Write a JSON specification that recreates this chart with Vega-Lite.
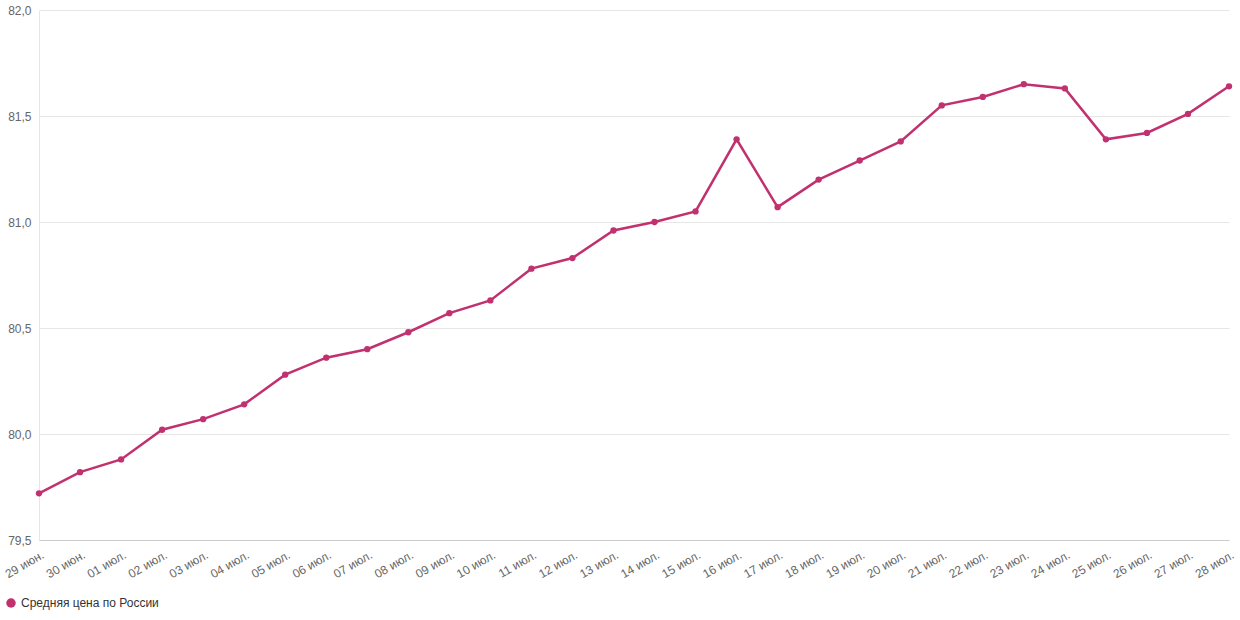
{
  "$schema": "https://vega.github.io/schema/vega-lite/v6.json",
  "autosize": "none",
  "width": 1190,
  "height": 530,
  "padding": {"left": 39, "top": 10, "right": 11, "bottom": 80},
  "background": "white",
  "config": {
    "view": {"stroke": null},
    "font": "Liberation Sans"
  },
  "data": {
    "values": [
      {"date": "29 июн.", "price": 79.72, "series": "Средняя цена по России"},
      {"date": "30 июн.", "price": 79.82, "series": "Средняя цена по России"},
      {"date": "01 июл.", "price": 79.88, "series": "Средняя цена по России"},
      {"date": "02 июл.", "price": 80.02, "series": "Средняя цена по России"},
      {"date": "03 июл.", "price": 80.07, "series": "Средняя цена по России"},
      {"date": "04 июл.", "price": 80.14, "series": "Средняя цена по России"},
      {"date": "05 июл.", "price": 80.28, "series": "Средняя цена по России"},
      {"date": "06 июл.", "price": 80.36, "series": "Средняя цена по России"},
      {"date": "07 июл.", "price": 80.40, "series": "Средняя цена по России"},
      {"date": "08 июл.", "price": 80.48, "series": "Средняя цена по России"},
      {"date": "09 июл.", "price": 80.57, "series": "Средняя цена по России"},
      {"date": "10 июл.", "price": 80.63, "series": "Средняя цена по России"},
      {"date": "11 июл.", "price": 80.78, "series": "Средняя цена по России"},
      {"date": "12 июл.", "price": 80.83, "series": "Средняя цена по России"},
      {"date": "13 июл.", "price": 80.96, "series": "Средняя цена по России"},
      {"date": "14 июл.", "price": 81.00, "series": "Средняя цена по России"},
      {"date": "15 июл.", "price": 81.05, "series": "Средняя цена по России"},
      {"date": "16 июл.", "price": 81.39, "series": "Средняя цена по России"},
      {"date": "17 июл.", "price": 81.07, "series": "Средняя цена по России"},
      {"date": "18 июл.", "price": 81.20, "series": "Средняя цена по России"},
      {"date": "19 июл.", "price": 81.29, "series": "Средняя цена по России"},
      {"date": "20 июл.", "price": 81.38, "series": "Средняя цена по России"},
      {"date": "21 июл.", "price": 81.55, "series": "Средняя цена по России"},
      {"date": "22 июл.", "price": 81.59, "series": "Средняя цена по России"},
      {"date": "23 июл.", "price": 81.65, "series": "Средняя цена по России"},
      {"date": "24 июл.", "price": 81.63, "series": "Средняя цена по России"},
      {"date": "25 июл.", "price": 81.39, "series": "Средняя цена по России"},
      {"date": "26 июл.", "price": 81.42, "series": "Средняя цена по России"},
      {"date": "27 июл.", "price": 81.51, "series": "Средняя цена по России"},
      {"date": "28 июл.", "price": 81.64, "series": "Средняя цена по России"}
    ]
  },
  "encoding": {
    "x": {
      "field": "date",
      "type": "ordinal",
      "sort": null,
      "scale": {"type": "point", "padding": 0},
      "axis": {
        "title": null,
        "labelAngle": -30,
        "labelAlign": "right",
        "labelBaseline": "top",
        "labelPadding": 9,
        "labelOffset": 1,
        "labelFontSize": 12,
        "labelColor": "#666666",
        "ticks": false,
        "grid": false,
        "domainColor": "#cccccc"
      }
    },
    "y": {
      "field": "price",
      "type": "quantitative",
      "scale": {"domain": [79.5, 82], "nice": false, "zero": false},
      "axis": {
        "title": null,
        "values": [79.5, 80, 80.5, 81, 81.5, 82],
        "labelExpr": "replace(format(datum.value, '.1f'), '.', ',')",
        "labelFontSize": 12,
        "labelColor": "#666666",
        "labelPadding": 8,
        "ticks": false,
        "gridColor": "#e6e6e6",
        "domainColor": "#e6e6e6"
      }
    },
    "color": {
      "field": "series",
      "type": "nominal",
      "scale": {"range": ["#c1316f"]},
      "legend": {
        "title": null,
        "orient": "none",
        "legendX": -34,
        "legendY": 587,
        "symbolType": "circle",
        "symbolSize": 90,
        "symbolStrokeWidth": 0,
        "labelFontSize": 12,
        "labelColor": "#333333",
        "labelOffset": 4
      }
    }
  },
  "layer": [
    {"mark": {"type": "line", "strokeWidth": 2.5}},
    {"mark": {"type": "circle", "size": 40, "opacity": 1}}
  ]
}
